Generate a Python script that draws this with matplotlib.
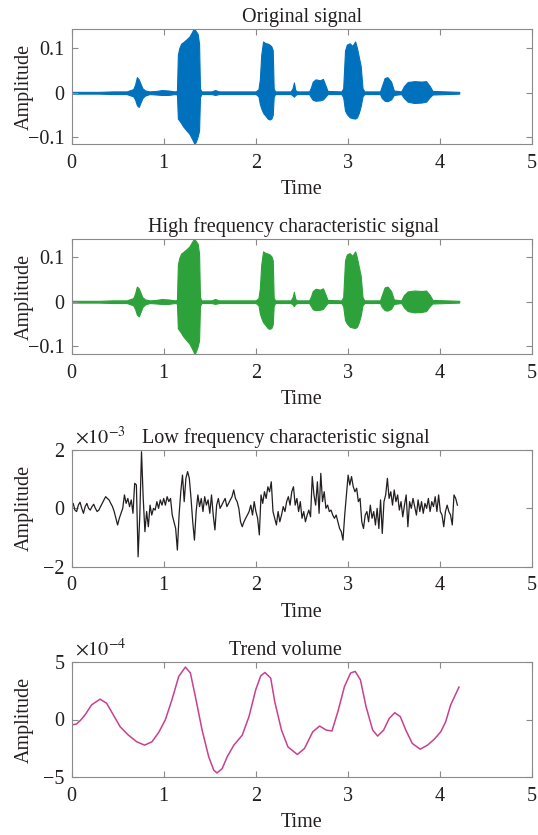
import numpy as np
import matplotlib
matplotlib.use("Agg")
import matplotlib.pyplot as plt

plt.rcParams['font.family'] = ['Liberation Serif', 'DejaVu Serif']
plt.rcParams['mathtext.fontset'] = 'stix'

# ---------------- data ----------------
# Envelope of the original speech signal (time, upper, lower)
orig_t = [0.00, 0.30, 0.45, 0.60, 0.64, 0.67, 0.69, 0.71, 0.73, 0.75, 0.77, 0.80, 0.85, 0.92, 0.98,
          1.05, 1.12, 1.145, 1.155, 1.17, 1.19, 1.21, 1.25, 1.28, 1.30, 1.32, 1.335, 1.35, 1.37,
          1.385, 1.395, 1.41, 1.52, 1.56, 1.60, 2.00, 2.03, 2.045, 2.06, 2.08, 2.10, 2.13, 2.15,
          2.17, 2.185, 2.195, 2.21, 2.38, 2.40, 2.415, 2.43, 2.45, 2.58, 2.60, 2.62, 2.65, 2.70,
          2.73, 2.76, 2.78, 2.93, 2.95, 2.97, 2.99, 3.02, 3.05, 3.08, 3.10, 3.12, 3.14, 3.16, 3.18,
          3.35, 3.37, 3.40, 3.43, 3.47, 3.50, 3.58, 3.61, 3.65, 3.72, 3.80, 3.85, 3.89, 3.92, 4.21]
orig_up = [0.002, 0.002, 0.003, 0.003, 0.006, 0.008, 0.018, 0.035, 0.030, 0.020, 0.010, 0.005, 0.003,
           0.004, 0.006, 0.005, 0.003, 0.004, 0.085, 0.100, 0.110, 0.113, 0.120, 0.126, 0.133, 0.141,
           0.143, 0.138, 0.132, 0.110, 0.010, 0.003, 0.003, 0.006, 0.003, 0.003, 0.008, 0.030, 0.085,
           0.115, 0.112, 0.110, 0.108, 0.104, 0.095, 0.010, 0.003, 0.003, 0.010, 0.023, 0.006, 0.003,
           0.003, 0.012, 0.025, 0.030, 0.028, 0.031, 0.015, 0.004, 0.003, 0.010, 0.095, 0.108, 0.111,
           0.105, 0.115, 0.100, 0.080, 0.060, 0.010, 0.003, 0.003, 0.015, 0.033, 0.035, 0.025, 0.005,
           0.003, 0.015, 0.024, 0.026, 0.025, 0.026, 0.015, 0.004, 0.002]
orig_lo = [-0.002, -0.002, -0.003, -0.003, -0.006, -0.008, -0.015, -0.028, -0.032, -0.022, -0.012,
           -0.006, -0.003, -0.004, -0.005, -0.005, -0.003, -0.004, -0.058, -0.062, -0.068, -0.075,
           -0.085, -0.092, -0.100, -0.108, -0.115, -0.110, -0.098, -0.085, -0.010, -0.003, -0.003,
           -0.005, -0.003, -0.003, -0.008, -0.025, -0.035, -0.045, -0.050, -0.058, -0.060, -0.058,
           -0.050, -0.010, -0.003, -0.003, -0.006, -0.009, -0.005, -0.003, -0.003, -0.010, -0.016,
           -0.018, -0.017, -0.015, -0.008, -0.003, -0.003, -0.010, -0.040, -0.048, -0.055, -0.057,
           -0.058, -0.055, -0.045, -0.030, -0.008, -0.003, -0.003, -0.012, -0.018, -0.019, -0.015,
           -0.005, -0.003, -0.012, -0.020, -0.023, -0.022, -0.020, -0.010, -0.004, -0.002]

# Envelope of the high frequency characteristic signal (same time grid)
hf_up = [0.002, 0.002, 0.003, 0.003, 0.006, 0.008, 0.018, 0.034, 0.030, 0.020, 0.010, 0.005, 0.003,
         0.004, 0.006, 0.005, 0.003, 0.004, 0.083, 0.098, 0.108, 0.111, 0.118, 0.124, 0.131, 0.138,
         0.140, 0.136, 0.130, 0.108, 0.010, 0.003, 0.003, 0.006, 0.003, 0.003, 0.008, 0.030, 0.083,
         0.113, 0.110, 0.108, 0.106, 0.102, 0.093, 0.010, 0.003, 0.003, 0.010, 0.022, 0.006, 0.003,
         0.003, 0.012, 0.024, 0.029, 0.027, 0.030, 0.015, 0.004, 0.003, 0.010, 0.093, 0.106, 0.109,
         0.103, 0.113, 0.098, 0.078, 0.058, 0.010, 0.003, 0.003, 0.015, 0.032, 0.034, 0.024, 0.005,
         0.003, 0.015, 0.023, 0.025, 0.024, 0.025, 0.015, 0.004, 0.002]
hf_lo = [-0.002, -0.002, -0.003, -0.003, -0.006, -0.008, -0.016, -0.029, -0.033, -0.023, -0.012,
         -0.006, -0.003, -0.004, -0.005, -0.005, -0.003, -0.004, -0.060, -0.064, -0.070, -0.077,
         -0.087, -0.094, -0.102, -0.110, -0.118, -0.112, -0.100, -0.087, -0.010, -0.003, -0.003,
         -0.005, -0.003, -0.003, -0.008, -0.026, -0.036, -0.046, -0.051, -0.059, -0.061, -0.059,
         -0.051, -0.010, -0.003, -0.003, -0.006, -0.010, -0.005, -0.003, -0.003, -0.010, -0.017,
         -0.019, -0.018, -0.016, -0.008, -0.003, -0.003, -0.010, -0.041, -0.049, -0.056, -0.058,
         -0.059, -0.056, -0.046, -0.031, -0.008, -0.003, -0.003, -0.012, -0.019, -0.020, -0.016,
         -0.005, -0.003, -0.013, -0.021, -0.024, -0.023, -0.021, -0.010, -0.004, -0.002]

# Low frequency characteristic signal (x 1e-3), sampled across 0 .. 4.19 s
low_vals = [0.06, 0.17, -0.06, -0.11, 0.11, 0.21, 0.00, -0.17, 0.06, 0.17, 0.00, -0.06, 0.06, 0.14,
            0.00, -0.11, -0.06, 0.06, 0.17, 0.29, 0.40, 0.34, 0.29, 0.17, 0.06, -0.11, -0.34, -0.57,
            -0.34, -0.17, 0.00, 0.46, 0.17, 0.34, 0.06, 0.29, -0.17, 0.86, 0.80, -1.66, -0.23, 1.94,
            0.34, -0.80, -0.11, -0.63, 0.11, -0.23, 0.00, -0.06, 0.23, 0.00, 0.29, 0.11, 0.34, 0.11,
            0.40, 0.23, 0.34, -0.23, -0.46, -0.69, -1.43, -0.23, 0.57, 1.14, 0.23, 1.03, 1.26, 1.03,
            0.34, -0.46, -1.09, -0.11, 0.46, 0.06, 0.34, -0.11, 0.40, 0.11, 0.29, -0.17, 0.46, -0.23,
            -0.74, 0.11, 0.34, 0.00, 0.11, 0.23, 0.34, 0.06, 0.17, 0.29, 0.40, 0.63, 0.34, 0.23, 0.00,
            -0.46, -0.63, -0.46, -0.34, -0.23, -0.11, 0.11, -0.23, 0.23, -0.11, -0.34, -0.91, 0.46,
            0.17, 0.57, 0.34, 0.74, 0.57, 0.91, -0.11, -0.34, -0.57, -0.11, -0.46, -0.23, 0.06, -0.11,
            0.23, 0.40, 0.11, 0.57, 0.74, 0.11, 0.34, -0.11, 0.23, -0.34, -0.11, -0.46, -0.23, -0.06,
            -0.29, 1.09, 0.46, 0.11, 0.91, -0.17, 1.20, 0.23, 0.57, 0.00, 0.11, -0.11, -0.06, -0.23,
            -0.34, -0.23, -0.46, -0.69, -0.80, -1.09, -0.23, 0.46, 1.14, 0.80, 1.09, 0.74, 0.57, 0.69,
            0.23, 0.34, -0.46, -0.69, -0.23, -0.11, -0.46, 0.11, -0.34, -0.11, -0.57, 0.00, -0.69,
            0.29, -0.86, 0.23, 0.46, 1.03, 0.34, 0.57, 0.11, 0.63, 0.23, 0.46, -0.06, 0.23, -0.29,
            0.11, 0.46, -0.63, 0.23, 0.00, 0.34, 0.06, -0.23, 0.29, -0.11, 0.23, -0.17, 0.17, 0.00,
            0.34, -0.11, 0.23, 0.06, 0.40, -0.11, 0.46, -0.11, -0.23, -0.63, -0.11, 0.11, -0.11,
            -0.23, -0.57, 0.46, 0.34, 0.11]
low_t_start, low_t_end = 0.0, 4.19

# Trend volume (x 1e-4)
trend_t = [0.00, 0.055, 0.10, 0.146, 0.218, 0.31, 0.382, 0.455, 0.528, 0.618, 0.709, 0.793, 0.873,
           0.945, 1.018, 1.09, 1.164, 1.237, 1.291, 1.345, 1.418, 1.49, 1.545, 1.58, 1.636, 1.69,
           1.763, 1.854, 1.927, 2.00, 2.055, 2.10, 2.163, 2.208, 2.28, 2.35, 2.452, 2.53, 2.62,
           2.694, 2.766, 2.828, 2.892, 2.964, 3.03, 3.08, 3.137, 3.198, 3.27, 3.324, 3.389, 3.45,
           3.51, 3.57, 3.63, 3.70, 3.786, 3.865, 3.937, 4.01, 4.063, 4.117, 4.207]
trend_v = [-0.48, -0.39, -0.05, 0.39, 1.27, 1.77, 1.41, 0.39, -0.63, -1.36, -1.94, -2.23, -1.94,
           -1.15, -0.04, 1.70, 3.74, 4.56, 4.04, 1.99, -0.92, -3.25, -4.41, -4.65, -4.27, -3.25,
           -2.23, -1.36, 0.25, 2.58, 3.80, 4.09, 3.60, 1.50, -0.92, -2.38, -3.04, -2.52, -1.06,
           -0.57, -0.92, -1.00, 0.68, 2.87, 4.04, 4.18, 3.45, 1.12, -0.92, -1.44, -0.92, 0.10,
           0.59, 0.25, -0.92, -2.08, -2.58, -2.23, -1.73, -1.06, -0.19, 1.27, 2.82]

x_ticks = [0, 1, 2, 3, 4, 5]

# ---------------- plotting ----------------
W, H = 538, 835
fig = plt.figure(figsize=(W / 100, H / 100), dpi=100)

left = 71.5 / W
width = (532 - 71.5) / W
tops = [29, 239.3, 450, 662]
bottoms = [144, 354.3, 566.7, 777]

spine_c = '#8a8a8a'
text_c = '#231f20'
fs = 14.5

axes = []
for tp, bt in zip(tops, bottoms):
    ax = fig.add_axes([left, 1 - bt / H, width, (bt - tp) / H])
    for s in ax.spines.values():
        s.set_color(spine_c)
        s.set_linewidth(0.8)
    ax.tick_params(direction='in', top=True, right=True, length=4, width=0.8,
                   color=spine_c, labelcolor=text_c, labelsize=fs)
    ax.tick_params(axis='x', pad=7)
    ax.tick_params(axis='y', pad=5)
    ax.set_xlim(0, 5)
    ax.set_xticks(x_ticks)
    ax.set_xlabel('Time', fontsize=fs, color=text_c)
    ax.set_ylabel('Amplitude', fontsize=fs, color=text_c)
    ax.xaxis.set_label_coords(0.5, -0.31)
    ax.yaxis.set_label_coords(-0.082, 0.5)
    axes.append(ax)

# 1: original signal
ax = axes[0]
ax.fill_between(orig_t, orig_lo, orig_up, color='#0072BD', lw=0.8, edgecolor='#0072BD')
ax.set_ylim(-0.115, 0.143)
ax.set_yticks([-0.1, 0, 0.1])
ax.set_yticklabels(['\u22120.1', '0', '0.1'])
ax.set_title('Original signal', fontsize=fs, color=text_c, pad=5, x=0.50)

# 2: high frequency
ax = axes[1]
ax.fill_between(orig_t, hf_lo, hf_up, color='#2EA23A', lw=0.8, edgecolor='#2EA23A')
ax.set_ylim(-0.118, 0.140)
ax.set_yticks([-0.1, 0, 0.1])
ax.set_yticklabels(['\u22120.1', '0', '0.1'])
ax.set_title('High frequency characteristic signal', fontsize=fs, color=text_c, pad=5, x=0.483)

# 3: low frequency
ax = axes[2]
low_t = np.linspace(low_t_start, low_t_end, len(low_vals))
ax.plot(low_t, np.array(low_vals) * 1e-3, color='#231f20', lw=0.9)
ax.set_ylim(-2e-3, 2e-3)
ax.set_yticks([-2e-3, 0, 2e-3])
ax.set_yticklabels(['\u22122', '0', '2'])
ax.set_title('Low frequency characteristic signal', fontsize=fs, color=text_c, pad=5, x=0.465)
ax.text(0.008, 1.015, r'$\times10^{-3}$', transform=ax.transAxes, fontsize=fs,
        color=text_c, ha='left', va='bottom')

# 4: trend volume
ax = axes[3]
ax.plot(trend_t, np.array(trend_v) * 1e-4, color='#C8408E', lw=1.1)
ax.set_ylim(-5e-4, 5e-4)
ax.set_yticks([-5e-4, 0, 5e-4])
ax.set_yticklabels(['\u22125', '0', '5'])
ax.set_title('Trend volume', fontsize=fs, color=text_c, pad=5, x=0.465)
ax.text(0.008, 1.015, r'$\times10^{-4}$', transform=ax.transAxes, fontsize=fs,
        color=text_c, ha='left', va='bottom')

fig.savefig('out.png', dpi=100)
